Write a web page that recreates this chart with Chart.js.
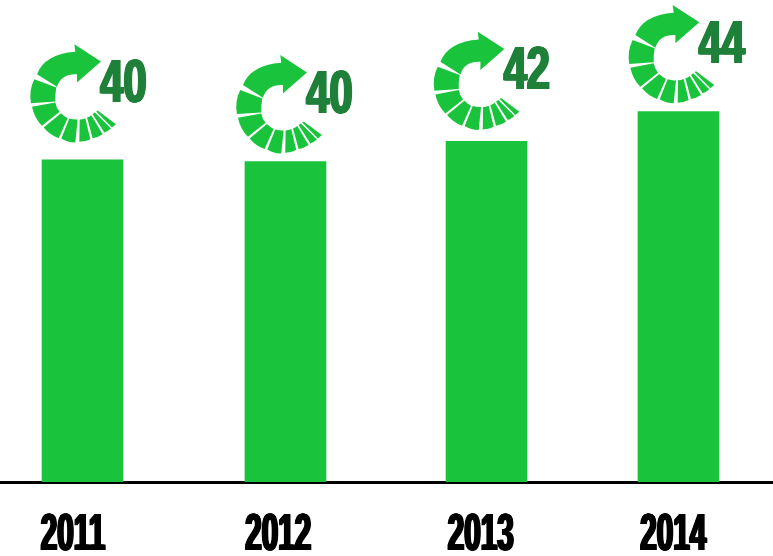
<!DOCTYPE html>
<html><head><meta charset="utf-8">
<style>html,body{margin:0;padding:0;background:#fff}#wrap{width:773px;height:556px;position:relative}</style>
<script src="https://cdn.jsdelivr.net/npm/chart.js@4"></script>
</head><body><div id="wrap"><canvas id="c"></canvas></div>
<script>
const years = ['2011','2012','2013','2014'];
const barHeights = [40.1, 39.9, 42.4, 46.1];
const badgeValues = [40, 40, 42, 44];

const GREEN = '#19C43C', DARK = '#1F8039';
const FONT = '"Liberation Sans"';
// hand placement of the reference, in pixels, applied on top of the scale's own output
const columnShift = [-14.1, -4.4, 3.4, 2.1];
const tickShift = [-23.6, -11.6, -2.3, -3.1];
const iconOffset = [[-21.7, -129], [-18.7, -119.7], [-22.3, -123], [-19.3, -120]];

// condensed heavy numerals: squeezed horizontally, stems thickened by repeated fills
function heavyText(ctx, text, x, y, size, squeeze, weight, color, align) {
  ctx.save();
  ctx.font = 'bold ' + size + 'px ' + FONT;
  ctx.textAlign = align;
  ctx.textBaseline = 'alphabetic';
  ctx.fillStyle = color;
  for (let dx = -weight; dx <= weight + 0.01; dx += 0.5) {
    ctx.save();
    ctx.translate(x + dx, y);
    ctx.scale(squeeze, 1);
    ctx.fillText(text, 0, 0);
    ctx.restore();
  }
  ctx.restore();
}

const Base = Chart.registry.getScale('category');
class YearScale extends Base {
  static id = 'yearScale';
  static defaults = Base.defaults;
  getPixelForValue(value, index) {
    const i = typeof value === 'number' ? Math.round(value) : index;
    return super.getPixelForValue(value, index) + (columnShift[i] || 0);
  }
  getPixelForTick(index) {
    const v = this.ticks[index].value;
    return super.getPixelForValue(v, index) + tickShift[index];
  }
  drawLabels() {
    this.ticks.forEach((t, i) => {
      heavyText(this.ctx, t.label, this.getPixelForTick(i), 550, 52, 0.57, 1.25, '#000', 'center');
    });
  }
}
Chart.register(YearScale);

// badge glyph, drawn in 3x units
const glyph = new Path2D(
  'M50 130 Q73 70 165 63 L162 40 L242 92 L170 155 L170 130 Q122 128 110 168 Z' +
  'M42 145 L108 170 Q104 190 105 212 L32 217 Q25 178 42 145 Z' +
  'M35 228 L105 215 Q108 232 118 243 L65 285 Q42 262 35 228 Z' +
  'M70 290 L122 247 Q132 257 142 262 L115 322 Q88 312 70 290 Z' +
  'M123 323 L147 263 Q160 267 172 266 L165 335 Q142 335 123 323 Z' +
  'M177 333 L178 266 Q187 266 195 262 L210 325 Q195 333 177 333 Z' +
  'M217 322 L200 260 Q207 258 213 253 L247 310 Q232 320 217 322 Z' +
  'M252 305 L217 250 L224 245 L272 293 Q262 302 252 305 Z' +
  'M275 290 L228 242 L232 239 L287 280 Z'
);

const badges = {
  id: 'badges',
  afterDatasetsDraw(chart) {
    const ctx = chart.ctx;
    chart.getDatasetMeta(0).data.forEach((bar, i) => {
      const left = bar.x - bar.width / 2;
      const ox = left + iconOffset[i][0], oy = bar.y + iconOffset[i][1];
      ctx.save();
      ctx.translate(ox, oy);
      ctx.scale(1 / 3, 1 / 3);
      ctx.fillStyle = GREEN;
      ctx.fill(glyph);
      ctx.restore();
      heavyText(ctx, String(badgeValues[i]), ox + 80, oy + 71, 62, 0.67, 1.25, DARK, 'left');
    });
  }
};

new Chart(document.getElementById('c'), {
  type: 'bar',
  data: {
    labels: years,
    datasets: [{ data: barHeights, backgroundColor: GREEN, borderWidth: 0, barThickness: 81 }]
  },
  options: {
    responsive: true,
    maintainAspectRatio: false,
    animation: false,
    layout: { padding: 0 },
    plugins: { legend: { display: false }, tooltip: { enabled: false } },
    scales: {
      x: {
        type: 'yearScale',
        grid: { display: false, drawTicks: false },
        border: { display: true, color: '#000', width: 3 },
        ticks: { autoSkip: false, maxRotation: 0, font: { family: FONT, size: 52, weight: 'bold' } },
        afterFit(s) { s.height = 74; s.paddingLeft = 0; s.paddingRight = 0; }
      },
      y: { display: false, min: 0, max: 60 }
    }
  },
  plugins: [badges]
});
</script></body></html>
